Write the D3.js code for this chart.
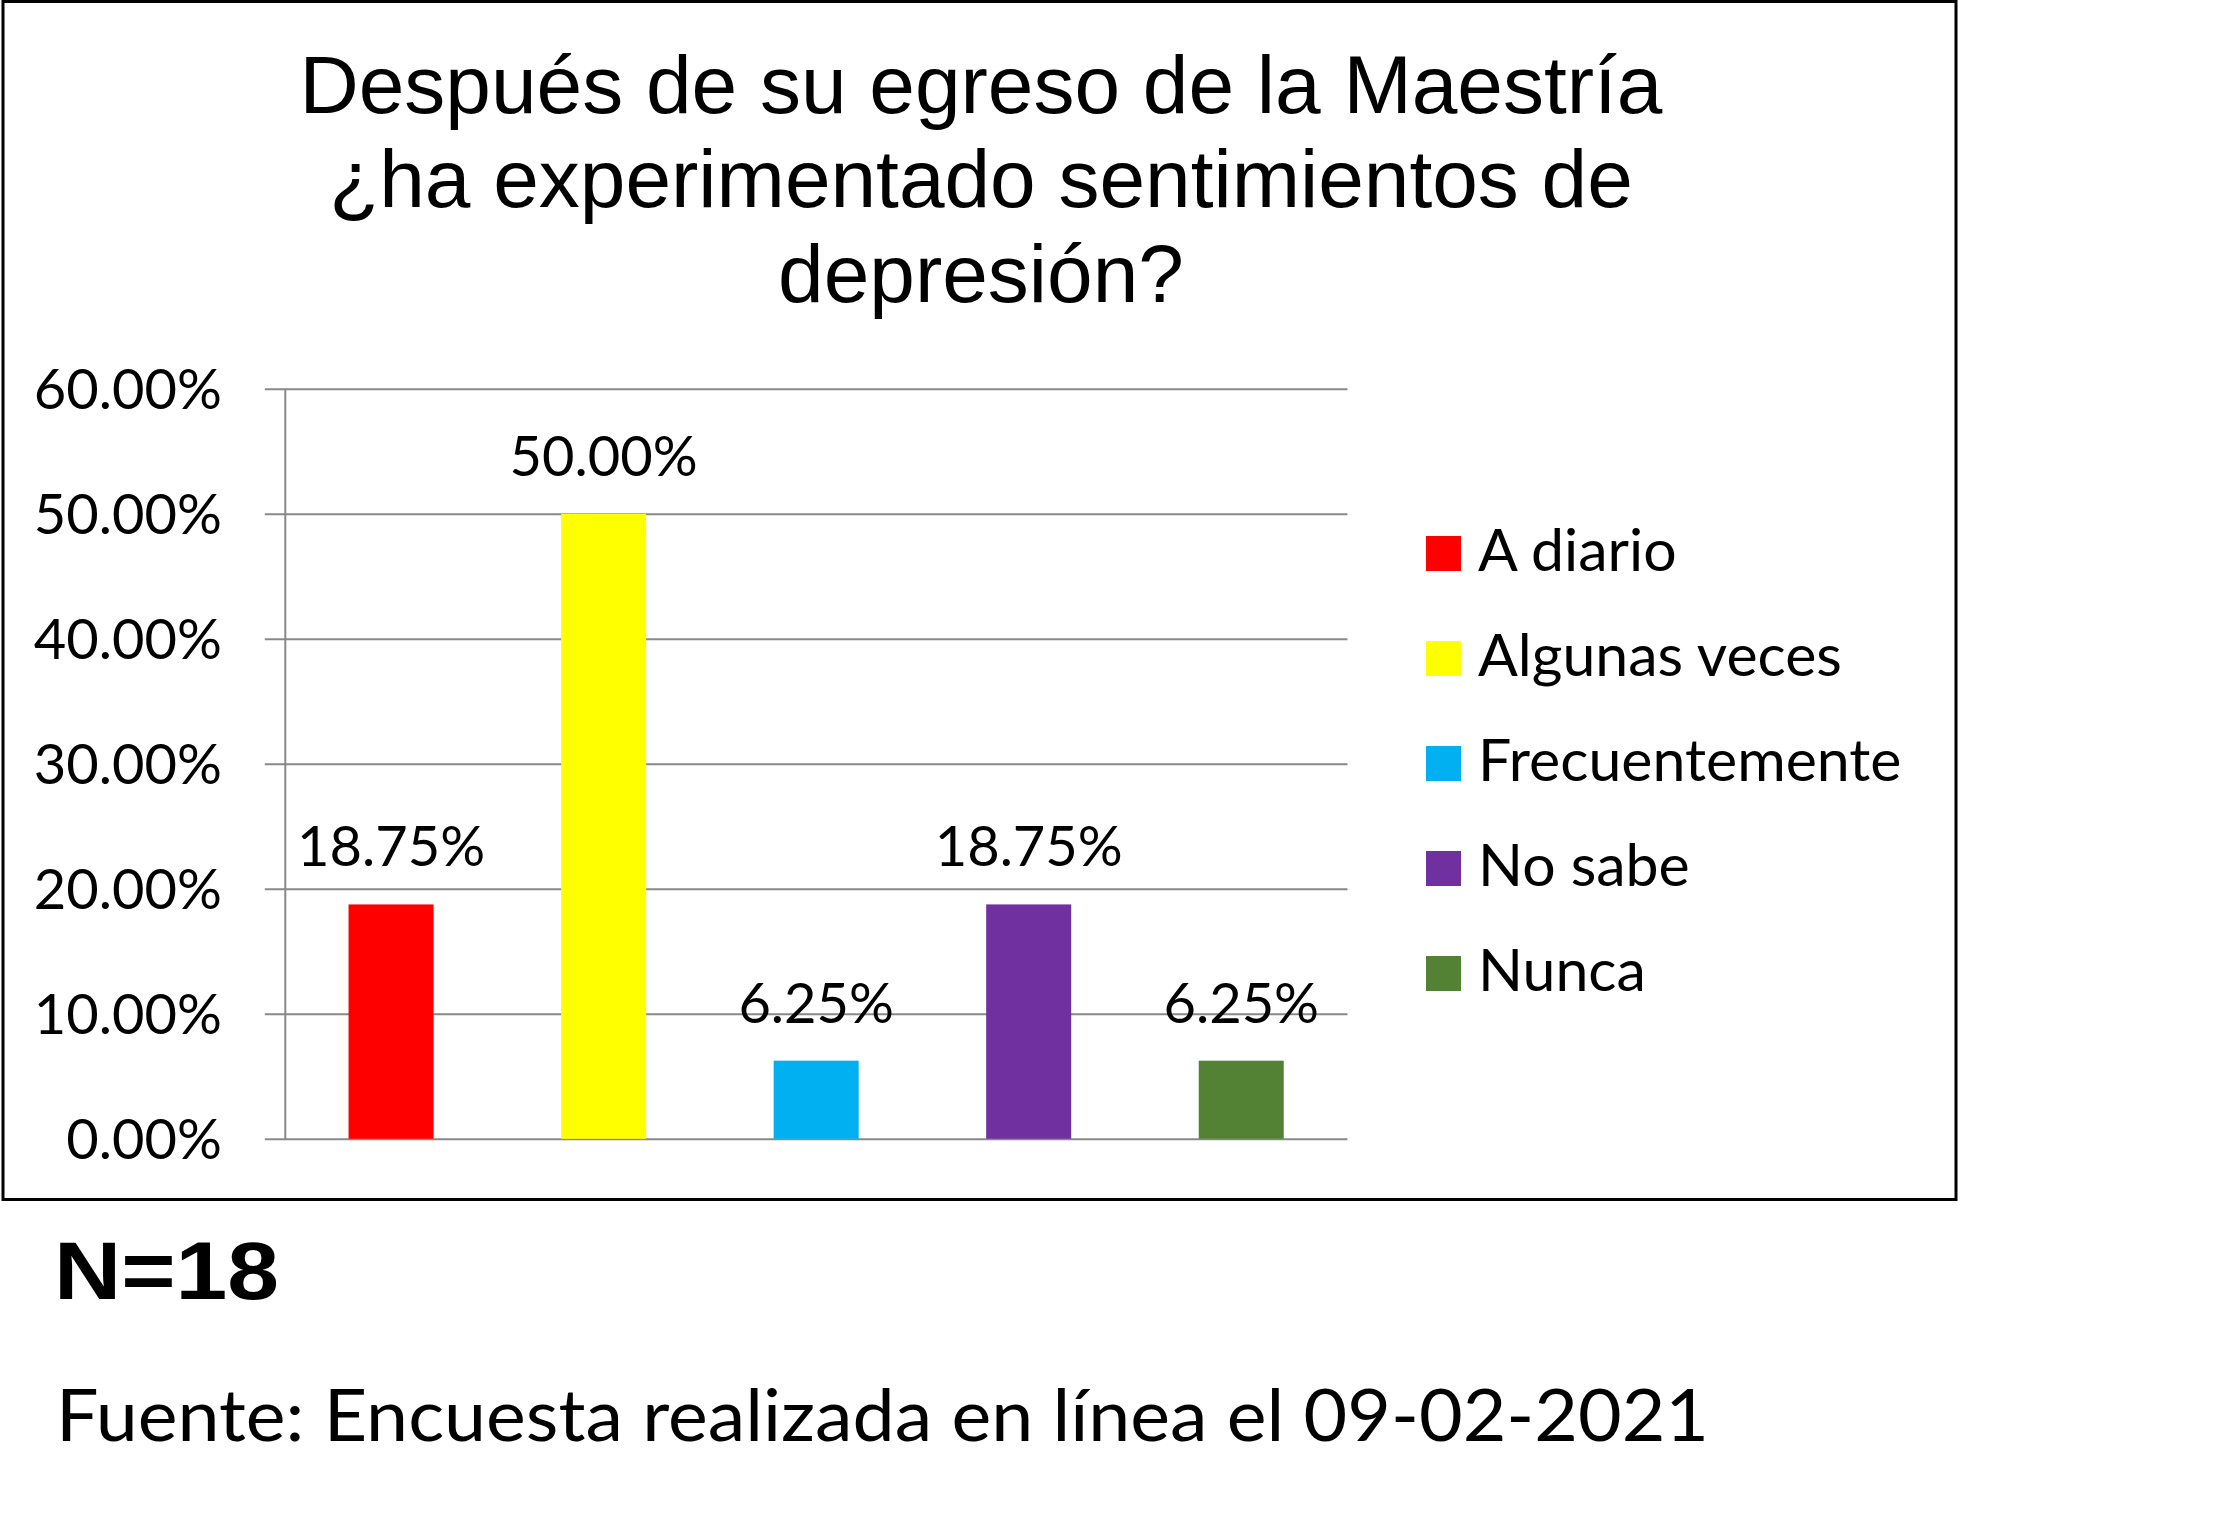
<!DOCTYPE html>
<html>
<head>
<meta charset="utf-8">
<script src="https://cdn.jsdelivr.net/npm/d3@7"></script>
<style>
  html, body { margin: 0; padding: 0; background: #ffffff; }
  svg { display: block; }
</style>
</head>
<body>
<script>
// ---- data ----
const categories = ["A diario", "Algunas veces", "Frecuentemente", "No sabe", "Nunca"];
const values = [0.1875, 0.50, 0.0625, 0.1875, 0.0625];
const colors = ["#FF0000", "#FFFF00", "#00B0F0", "#7030A0", "#548235"];
const yTicks = [0, 0.1, 0.2, 0.3, 0.4, 0.5, 0.6];
const titleLines = ["Después de su egreso de la Maestría", "¿ha experimentado sentimientos de", "depresión?"];
const noteN = "N=18";
const sourceText = "Fuente: Encuesta realizada en línea el 09-02-2021";

// ---- layout ----
const W = 2218, H = 1514;
const plot = { left: 284.8, right: 1347.5, top: 388.8, bottom: 1138.8 };
const calibriSub = "Lato, 'Open Sans', sans-serif";

const svg = d3.select("body").append("svg")
  .attr("width", W).attr("height", H)
  .attr("viewBox", `0 0 ${W} ${H}`);

svg.append("rect").attr("x", 0).attr("y", 0).attr("width", W).attr("height", H).attr("fill", "#fff");

// chart border
svg.append("rect")
  .attr("x", 3).attr("y", 1.5).attr("width", 1953).attr("height", 1198)
  .attr("fill", "none").attr("stroke", "#000").attr("stroke-width", 3);

// title
svg.append("g").selectAll("text").data(titleLines).join("text")
  .attr("x", 981)
  .attr("y", (d, i) => 112.5 + i * 94.5)
  .attr("text-anchor", "middle")
  .attr("font-family", "'Liberation Sans', Arial, sans-serif")
  .attr("font-size", 82)
  .attr("fill", "#000")
  .text(d => d);

// scales
const x = d3.scaleBand()
  .domain(categories)
  .range([plot.left, plot.right])
  .paddingInner(0.6)
  .paddingOuter(0.3);

const y = d3.scaleLinear()
  .domain([0, 0.6])
  .range([plot.bottom, plot.top]);

// y axis with gridlines
const yAxis = d3.axisLeft(y)
  .tickValues(yTicks)
  .tickSize(20)
  .tickSizeOuter(0)
  .tickFormat(d3.format(".2%"));

const gy = svg.append("g")
  .attr("transform", `translate(${plot.left},0)`)
  .call(yAxis);

gy.select(".domain").attr("stroke", "#898989").attr("stroke-width", 2);
gy.selectAll(".tick line")
  .attr("x1", -20)
  .attr("x2", plot.right - plot.left)
  .attr("stroke", "#898989")
  .attr("stroke-width", 2);
gy.selectAll(".tick text")
  .attr("x", -63)
  .attr("dy", null)
  .attr("y", 20)
  .attr("text-anchor", "end")
  .attr("font-family", calibriSub)
  .attr("font-size", 56)
  .attr("fill", "#000");

// bars
svg.append("g").selectAll("rect").data(categories).join("rect")
  .attr("x", d => x(d))
  .attr("y", (d, i) => y(values[i]))
  .attr("width", x.bandwidth())
  .attr("height", (d, i) => y(0) - y(values[i]))
  .attr("fill", (d, i) => colors[i]);

// data labels
svg.append("g").selectAll("text").data(categories).join("text")
  .attr("x", d => x(d) + x.bandwidth() / 2)
  .attr("y", (d, i) => y(values[i]) - 38)
  .attr("text-anchor", "middle")
  .attr("font-family", calibriSub)
  .attr("font-size", 56)
  .attr("fill", "#000")
  .text((d, i) => d3.format(".2%")(values[i]));

// legend
const legend = svg.append("g").selectAll("g").data(categories).join("g")
  .attr("transform", (d, i) => `translate(1426, ${536 + i * 105})`);
legend.append("rect")
  .attr("width", 35).attr("height", 35)
  .attr("fill", (d, i) => colors[i]);
legend.append("text")
  .attr("x", 52).attr("y", 35)
  .attr("font-family", calibriSub)
  .attr("font-size", 59)
  .attr("fill", "#000")
  .text(d => d);

// N note
svg.append("text")
  .attr("x", 54).attr("y", 1299)
  .attr("font-family", "'Liberation Sans', Arial, sans-serif")
  .attr("font-weight", "bold")
  .attr("font-size", 82)
  .attr("textLength", 225)
  .attr("lengthAdjust", "spacingAndGlyphs")
  .attr("fill", "#000")
  .text(noteN);

// source
svg.append("text")
  .attr("x", 56).attr("y", 1441)
  .attr("font-family", calibriSub)
  .attr("font-size", 71)
  .attr("textLength", 1653)
  .attr("lengthAdjust", "spacingAndGlyphs")
  .attr("fill", "#000")
  .text(sourceText);
</script>
</body>
</html>
